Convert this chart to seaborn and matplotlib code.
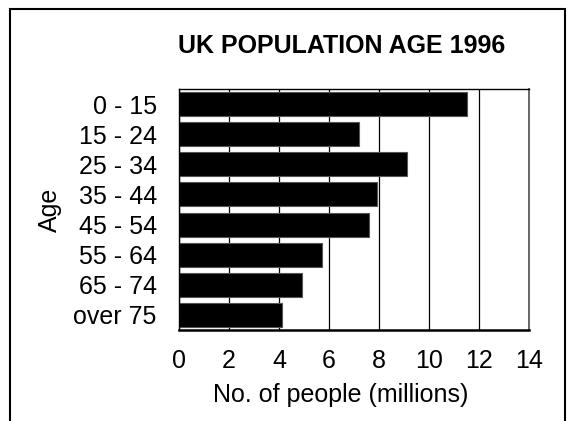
import pandas as pd
import seaborn as sns
import matplotlib.pyplot as plt
from matplotlib.patches import Rectangle

# Data
ages = ['0 - 15', '15 - 24', '25 - 34', '35 - 44', '45 - 54', '55 - 64', '65 - 74', 'over 75']
people = [11.5, 7.2, 9.1, 7.9, 7.6, 5.7, 4.9, 4.1]
xticks = [0, 2, 4, 6, 8, 10, 12, 14]

df = pd.DataFrame({'Age': ages, 'People': people})

sns.set_style('white')
plt.rcParams['font.family'] = ['Liberation Sans', 'DejaVu Sans']
plt.rcParams['text.color'] = 'black'
plt.rcParams['axes.labelcolor'] = 'black'
plt.rcParams['xtick.color'] = 'black'
plt.rcParams['ytick.color'] = 'black'

fig = plt.figure(figsize=(5.73, 4.21), dpi=100)
ax = fig.add_axes([179 / 573, 1 - 330 / 421, 350 / 573, 241 / 421])

sns.barplot(data=df, x='People', y='Age', orient='h', color='black',
            width=0.8, edgecolor='#555555', linewidth=0.8, saturation=1, ax=ax)

ax.set_xlim(0, 14)
ax.set_xticks(xticks)
ax.set_xticklabels([str(t) for t in xticks])
ax.set_axisbelow(True)
ax.grid(axis='x', color='black', linewidth=0.9)
ax.grid(axis='y', visible=False)
ax.tick_params(axis='both', length=0, labelsize=18)
ax.tick_params(axis='x', pad=14)
ax.tick_params(axis='y', pad=16)
for s in ax.spines.values():
    s.set_color('black')
    s.set_linewidth(1.0)
ax.spines['bottom'].set_linewidth(1.8)
ax.spines['right'].set_color('#666666')
ax.spines['right'].set_linewidth(1.4)

ax.set_xlabel('No. of people (millions)', fontsize=18)
ax.xaxis.set_label_coords((341 - 179) / 350, -(383 - 330) / 241)
ax.set_ylabel('Age', fontsize=18, labelpad=8)

fig.text(342 / 573, 1 - 46 / 421, 'UK POPULATION AGE 1996', ha='center', va='center',
         fontsize=18, fontweight='bold')

# outer frame (bottom edge runs off the image)
fig.patches.append(Rectangle((9.5 / 573, -0.05), 555 / 573, 1.05 - 8.5 / 421,
                             transform=fig.transFigure, fill=False,
                             edgecolor='black', linewidth=1.5))

fig.savefig('out.png', dpi=100)
